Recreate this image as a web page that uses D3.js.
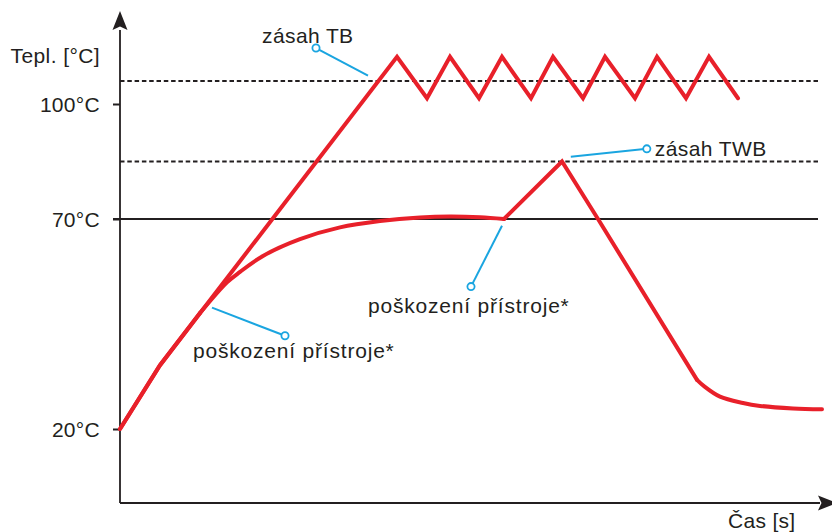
<!DOCTYPE html>
<html>
<head>
<meta charset="utf-8">
<script src="https://cdn.jsdelivr.net/npm/d3@7"></script>
<style>
  html, body { margin: 0; padding: 0; background: #fff; }
  svg { display: block; font-family: "Liberation Sans", Arial, sans-serif; }
</style>
</head>
<body>
<svg id="chart" width="832" height="532"></svg>
<script>
// Temperature axis ticks (°C) and their labels
const yTickValues = [20, 70, 100];
const yTickLabels = ["20°C", "70°C", "100°C"];

// Protection limits (°C)
const limitTB = 106;    // safety thermostat TB
const limitTWB = 85;    // temperature monitor TWB
const nominalTemp = 70; // working temperature

// Curve with TB intervention: heat-up, then cycling around the TB limit
const tbTime = [0, 20, 76.2, 138.5, 153.5, 165, 179.5, 191, 205.5, 216.5, 231.5, 242.5, 257.5, 268.5, 283, 294.5, 309];
const tbTemp = [20, 35.2, 70, 112.3, 101.5, 112.3, 101.5, 112.3, 101.5, 112.3, 101.5, 112.3, 101.5, 112.3, 101.5, 112.3, 101.5];

// Curve with TWB intervention: saturating heat-up, overshoot to TWB, cool-down
const twbTime = [0, 20, 40, 53.5, 60, 71.5, 90, 110, 130, 150, 165, 180, 192, 221, 239, 288.5, 292, 300, 311.5, 320, 336.5, 351];
const twbTemp = [20, 35.2, 47.6, 54.9, 57.4, 61.2, 65.2, 68.0, 69.5, 70.4, 70.65, 70.45, 70, 85, 70, 31.7, 30.2, 27.7, 26.2, 25.5, 24.9, 24.7];
// index ranges of the TWB curve and how each piece is drawn
const twbPieces = [
  { from: 0, to: 2, curve: d3.curveLinear },
  { from: 2, to: 12, curve: d3.curveCatmullRom.alpha(0.5) },
  { from: 12, to: 15, curve: d3.curveLinear },
  { from: 15, to: 21, curve: d3.curveCatmullRom.alpha(0.5) }
];

// Callouts: leader from a point on the curve to a small ring, text next to the ring
const callouts = [
  { text: "zásah TB", from: [124, 107.4], ring: [98, 114.6], dx: -54, dy: -5, spacing: 0.4 },
  { text: "zásah TWB", from: [225.4, 86.25], ring: [263.4, 88.3], dx: 8, dy: 7, spacing: 0.4 },
  { text: "poškození přístroje*", from: [46, 48.9], ring: [82.5, 42.2], dx: -92, dy: 22, spacing: 0.8 },
  { text: "poškození přístroje*", from: [191, 68.4], ring: [175.5, 53.9], dx: -103, dy: 26, spacing: 0.8 }
];

const svg = d3.select("#chart");
const ink = "#231f20";
const red = "#e8202a";
const cyan = "#1aa5e0";
const fontSize = 21;

const x = d3.scaleLinear().domain([0, 350]).range([120, 820]);
const y = d3.scaleLinear().domain([20, 70, 100]).range([429, 219, 104]);

const axisLeft = 120;
const axisBottom = 503;
const axisTop = 30;
const axisRight = 818;

// dashed limit lines
[limitTB, limitTWB].forEach(v => {
  svg.append("line")
    .attr("x1", axisLeft).attr("x2", axisRight)
    .attr("y1", y(v)).attr("y2", y(v))
    .attr("stroke", ink).attr("stroke-width", 2)
    .attr("stroke-dasharray", "4.5,2.8");
});

// working temperature line
svg.append("line")
  .attr("x1", axisLeft - 7).attr("x2", axisRight)
  .attr("y1", y(nominalTemp)).attr("y2", y(nominalTemp))
  .attr("stroke", ink).attr("stroke-width", 2.2);

// y axis ticks and labels
const yAxis = d3.axisLeft(y)
  .tickValues(yTickValues)
  .tickFormat((d, i) => yTickLabels[i])
  .tickSize(7)
  .tickPadding(13);
const gy = svg.append("g").attr("transform", `translate(${axisLeft},0)`).call(yAxis);
gy.select(".domain").remove();
gy.selectAll(".tick line").attr("stroke", ink).attr("stroke-width", 2);
gy.selectAll(".tick text")
  .attr("fill", ink)
  .style("font-size", fontSize + "px")
  .style("font-family", "'Liberation Sans', Arial, sans-serif")
  .style("letter-spacing", "0.3px")
  .attr("dy", "0.36em");

// axis lines
svg.append("line")
  .attr("x1", axisLeft).attr("x2", axisLeft)
  .attr("y1", axisBottom).attr("y2", axisTop)
  .attr("stroke", ink).attr("stroke-width", 1.8);
svg.append("line")
  .attr("x1", axisLeft).attr("x2", axisRight + 2)
  .attr("y1", axisBottom).attr("y2", axisBottom)
  .attr("stroke", ink).attr("stroke-width", 1.8);

// arrow heads
const arrow = "M0,0 L-7.5,19 L0,15.5 L7.5,19 Z";
svg.append("path").attr("d", arrow)
  .attr("transform", `translate(${axisLeft},11)`)
  .attr("fill", ink);
svg.append("path").attr("d", arrow)
  .attr("transform", `translate(${axisRight + 19},${axisBottom}) rotate(90)`)
  .attr("fill", ink);

// axis titles
svg.append("text")
  .attr("x", 100).attr("y", 63)
  .attr("text-anchor", "end")
  .attr("fill", ink).style("font-size", fontSize + "px")
  .style("letter-spacing", "0.4px")
  .text("Tepl. [°C]");
svg.append("text")
  .attr("x", 728).attr("y", 528)
  .attr("fill", ink).style("font-size", fontSize + "px")
  .style("letter-spacing", "0.3px")
  .text("Čas [s]");

// curves
const pts = (ts, vs) => ts.map((t, i) => [t, vs[i]]);
const lineGen = curve => d3.line().x(d => x(d[0])).y(d => y(d[1])).curve(curve);

const curveStyle = sel => sel
  .attr("fill", "none")
  .attr("stroke", red)
  .attr("stroke-width", 4)
  .attr("stroke-linejoin", "miter")
  .attr("stroke-linecap", "round");

const twbPts = pts(twbTime, twbTemp);
twbPieces.forEach(p => {
  svg.append("path")
    .datum(twbPts.slice(p.from, p.to + 1))
    .attr("d", lineGen(p.curve))
    .call(curveStyle);
});

svg.append("path")
  .datum(pts(tbTime, tbTemp))
  .attr("d", lineGen(d3.curveLinear))
  .call(curveStyle);

// callouts
callouts.forEach(c => {
  const rx = x(c.ring[0]), ry = y(c.ring[1]);
  svg.append("line")
    .attr("x1", x(c.from[0])).attr("y1", y(c.from[1]))
    .attr("x2", rx).attr("y2", ry)
    .attr("stroke", cyan).attr("stroke-width", 2);
  svg.append("circle")
    .attr("cx", rx).attr("cy", ry).attr("r", 3.6)
    .attr("fill", "#fff").attr("stroke", cyan).attr("stroke-width", 1.8);
  svg.append("text")
    .attr("x", rx + c.dx).attr("y", ry + c.dy)
    .attr("fill", ink).style("font-size", fontSize + "px")
    .style("letter-spacing", c.spacing + "px")
    .text(c.text);
});
</script>
</body>
</html>
